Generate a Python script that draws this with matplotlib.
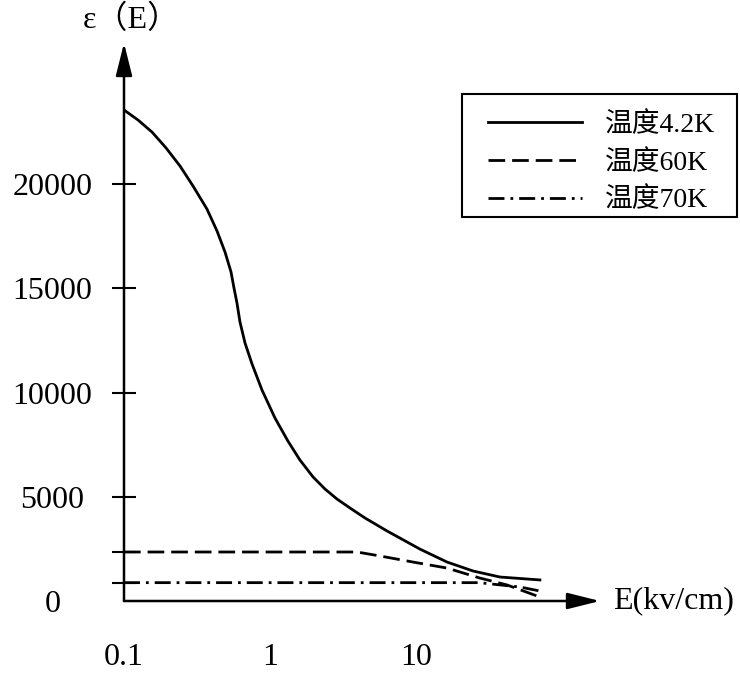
import matplotlib
matplotlib.use("Agg")
import matplotlib.pyplot as plt
from matplotlib.patches import Rectangle

plt.rcParams['font.family'] = ['Liberation Serif', 'Noto Sans CJK SC']
plt.rcParams['lines.scale_dashes'] = False

# ---- data ----
E_42 = [0.1, 0.1247, 0.1556, 0.1941, 0.2421, 0.2972, 0.370, 0.4334, 0.4917, 0.5408,
        0.5667, 0.5941, 0.6228, 0.6747, 0.7531, 0.8812, 1.081, 1.327, 1.604, 1.971,
        2.381, 2.877, 3.532, 4.477, 6.328, 10.64, 16.29, 24.55, 37.6, 70.6]
eps_42 = [23550, 23070, 22490, 21730, 20860, 19900, 18800, 17750, 16740, 15780,
          15010, 14290, 13380, 12370, 11370, 10120, 8780, 7670, 6760, 5950,
          5370, 4890, 4460, 3980, 3360, 2490, 1870, 1440, 1150, 1010]

E_60 = [0.1, 3.95, 5.66, 9.5, 16.3, 27.4, 42, 70.6]
eps_60 = [2350, 2350, 2160, 1870, 1580, 1100, 770, 190]

E_70 = [0.1, 27, 51.5, 70.6]
eps_70 = [880, 880, 670, 480]

labels = ['温度4.2K', '温度60K', '温度70K']
ytick_vals = [0, 5000, 10000, 15000, 20000]
ytick_minor = [880, 2350]
xtick_vals = [0.1, 1, 10]
xtick_labels = ['0.1', '1', '10']

fig = plt.figure(figsize=(7.4, 6.75), dpi=100)
ax = fig.add_axes([124/740, 1-601/675, (600-124)/740, (601-43)/675])

lw = 2.0
ax.plot(E_42, eps_42, color='black', lw=lw, label=labels[0], solid_joinstyle='round')
ax.plot(E_60, eps_60, color='black', lw=lw, dashes=(12, 5), label=labels[1])
ax.plot(E_70, eps_70, color='black', lw=lw, dashes=(11.5, 4.3, 2, 4.3), label=labels[2])

ax.set_xscale('log')
ax.set_xlim(0.1, 10 ** (-1 + (600-124)/146))
ax.set_ylim(0, (601-43)/0.02085)

for s in ['top', 'right', 'bottom', 'left']:
    ax.spines[s].set_visible(False)

arrow = dict(arrowstyle='-|>,head_length=1.0,head_width=0.25', color='black',
             lw=1.8, mutation_scale=20, shrinkA=0, shrinkB=0)
ax.annotate('', xy=(1, 0), xytext=(0, 0), xycoords='axes fraction',
            textcoords='axes fraction', arrowprops=arrow)
ax.annotate('', xy=(0, 1), xytext=(0, 0), xycoords='axes fraction',
            textcoords='axes fraction', arrowprops=arrow)

ax.set_xticks(xtick_vals)
ax.set_xticklabels(xtick_labels)
ax.xaxis.set_minor_locator(matplotlib.ticker.NullLocator())
ax.tick_params(axis='x', which='both', length=0, pad=30, labelsize=23)

ax.set_yticks(ytick_vals + ytick_minor)
ax.set_yticklabels([str(v) for v in ytick_vals] + ['', ''])
ax.tick_params(axis='y', direction='inout', length=17, width=1.5, labelsize=23, pad=43)
for lab in ax.get_yticklabels():
    lab.set_horizontalalignment('center')
ax.yaxis.get_major_ticks()[0].tick1line.set_visible(False)

fig.text(131/740, 1-20/675, 'ε（E）', ha='center', va='center', fontsize=23)
fig.text(613/740, 1-601/675, 'E(kv/cm)', ha='left', va='center', fontsize=23)

leg = ax.legend(loc='upper left', bbox_to_anchor=(488/740, 1-112/675),
                bbox_transform=fig.transFigure, borderaxespad=0, borderpad=0,
                fontsize=20, frameon=False, handlelength=3.4,
                handletextpad=0.8, labelspacing=0.44)
fig.patches.append(Rectangle((462/740, 1-217/675), (737-462)/740, (217-94)/675,
                             transform=fig.transFigure, fill=False,
                             edgecolor='black', lw=1.5))

fig.savefig('out.png', dpi=100)
